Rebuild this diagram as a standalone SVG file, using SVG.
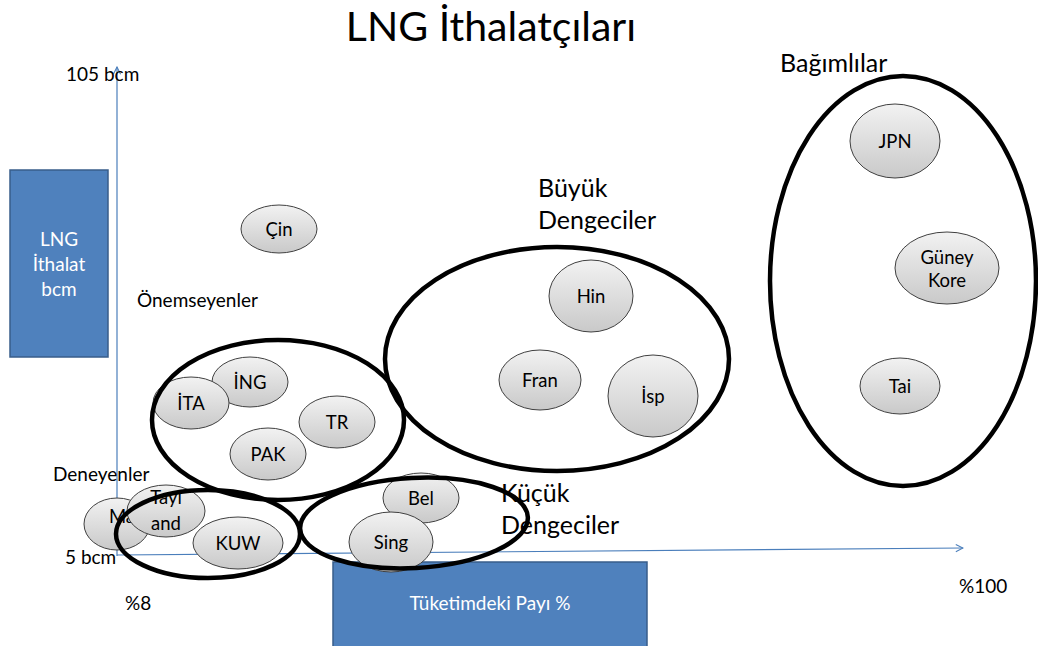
<svg xmlns="http://www.w3.org/2000/svg" width="1038" height="646" viewBox="0 0 1038 646">
  <defs>
    <linearGradient id="nodeFill" x1="0" y1="0" x2="0" y2="1">
      <stop offset="0" stop-color="#f2f2f2"/>
      <stop offset="1" stop-color="#c9c9c9"/>
    </linearGradient>
    <marker id="axisHead" viewBox="0 0 10 10" refX="9" refY="5" markerWidth="9" markerHeight="9" markerUnits="userSpaceOnUse" orient="auto">
      <path d="M1,1 L9,5 L1,9" fill="none" stroke="#4a7ebb" stroke-width="1.2"/>
    </marker>
    <style>
      text { font-family: Lato, "Liberation Sans", sans-serif; fill: #000; }
      .title { font-size: 41px; }
      .lbl { font-size: 19px; }
      .grp { font-size: 25px; }
      .node { fill: url(#nodeFill); stroke: #404040; stroke-width: 1; }
      .node-text { font-size: 18.5px; text-anchor: middle; }
      .ring { fill: none; stroke: #000; stroke-width: 4.5; }
      .box { fill: #4f81bd; stroke: #385d8a; stroke-width: 1.5; }
      .box-text { fill: #fff; font-size: 19px; text-anchor: middle; }
      .axis { stroke: #4a7ebb; stroke-width: 1.2; fill: none; }
    </style>
  </defs>

  <rect width="1038" height="646" fill="#fff"/>

  <text class="title" x="491" y="41" text-anchor="middle">LNG İthalatçıları</text>

  <!-- axis captions -->
  <g id="y-caption">
    <rect class="box" x="10" y="170" width="98" height="187"/>
    <text class="box-text" x="59" y="246">LNG</text>
    <text class="box-text" x="59" y="271">İthalat</text>
    <text class="box-text" x="59" y="296">bcm</text>
  </g>
  <g id="x-caption">
    <rect class="box" x="333" y="562" width="314" height="90"/>
    <text class="box-text" x="490" y="610">Tüketimdeki Payı %</text>
  </g>

  <!-- axes -->
  <g id="connectors">
    <line class="axis" x1="117" y1="556" x2="117" y2="67" marker-end="url(#axisHead)"/>
    <line class="axis" x1="117" y1="555" x2="963" y2="548" marker-end="url(#axisHead)"/>
  </g>

  <text class="lbl" x="66" y="81">105 bcm</text>
  <text class="lbl" x="65" y="564">5 bcm</text>
  <text class="lbl" x="125" y="610">%8</text>
  <text class="lbl" x="959" y="593">%100</text>
  <text class="lbl" x="137" y="307">Önemseyenler</text>
  <text class="lbl" x="53" y="481">Deneyenler</text>

  <text class="grp" x="538" y="197">Büyük</text>
  <text class="grp" x="538" y="229">Dengeciler</text>
  <text class="grp" x="501" y="502">Küçük</text>
  <text class="grp" x="501" y="534">Dengeciler</text>
  <text class="grp" x="780" y="72">Bağımlılar</text>

  <!-- country nodes -->
  <g id="cin"><ellipse class="node" cx="279" cy="229" rx="38" ry="24"/><text class="node-text" x="279" y="236">Çin</text></g>
  <g id="ing"><ellipse class="node" cx="250" cy="382" rx="38" ry="25"/><text class="node-text" x="250" y="389">İNG</text></g>
  <g id="ita"><ellipse class="node" cx="191" cy="403" rx="38" ry="26"/><text class="node-text" x="191" y="410">İTA</text></g>
  <g id="tr"><ellipse class="node" cx="337" cy="422" rx="38" ry="26"/><text class="node-text" x="337" y="429">TR</text></g>
  <g id="pak"><ellipse class="node" cx="268" cy="454" rx="38" ry="26"/><text class="node-text" x="268" y="461">PAK</text></g>

  <g id="hin"><ellipse class="node" cx="591" cy="296" rx="42" ry="36"/><text class="node-text" x="591" y="303">Hin</text></g>
  <g id="fran"><ellipse class="node" cx="540" cy="380" rx="41" ry="30"/><text class="node-text" x="540" y="387">Fran</text></g>
  <g id="isp"><ellipse class="node" cx="653" cy="396" rx="45" ry="41"/><text class="node-text" x="653" y="403">İsp</text></g>

  <g id="jpn"><ellipse class="node" cx="895" cy="141" rx="45" ry="37"/><text class="node-text" x="895" y="148">JPN</text></g>
  <g id="guney-kore"><ellipse class="node" cx="947" cy="268" rx="52" ry="36"/><text class="node-text" x="947" y="264">Güney</text><text class="node-text" x="947" y="287">Kore</text></g>
  <g id="tai"><ellipse class="node" cx="900" cy="386" rx="40" ry="28"/><text class="node-text" x="900" y="393">Tai</text></g>

  <g id="ma"><ellipse class="node" cx="117" cy="524" rx="33" ry="26"/><text class="node-text" x="122" y="523">Ma</text></g>
  <g id="tayland"><ellipse class="node" cx="166" cy="511" rx="39" ry="26"/><text class="node-text" x="166" y="504">Tayl</text><text class="node-text" x="166" y="530">and</text></g>
  <g id="kuw"><ellipse class="node" cx="238" cy="543" rx="45" ry="26"/><text class="node-text" x="238" y="550">KUW</text></g>

  <g id="bel"><ellipse class="node" cx="421" cy="498" rx="38" ry="25"/><text class="node-text" x="421" y="505">Bel</text></g>
  <g id="sing"><ellipse class="node" cx="391" cy="542" rx="42" ry="30"/><text class="node-text" x="391" y="549">Sing</text></g>

  <!-- group outlines -->
  <g id="onemseyenler"><ellipse class="ring" cx="278" cy="420" rx="126" ry="80"/></g>
  <g id="buyuk-dengeciler"><ellipse class="ring" cx="557" cy="359" rx="172" ry="112"/></g>
  <g id="bagimlilar"><ellipse class="ring" cx="903" cy="281" rx="133" ry="205"/></g>
  <g id="deneyenler"><ellipse class="ring" cx="208" cy="534" rx="92" ry="44"/></g>
  <g id="kucuk-dengeciler"><ellipse class="ring" cx="414" cy="523" rx="114" ry="45" transform="rotate(-3 414 523)"/></g>
</svg>
